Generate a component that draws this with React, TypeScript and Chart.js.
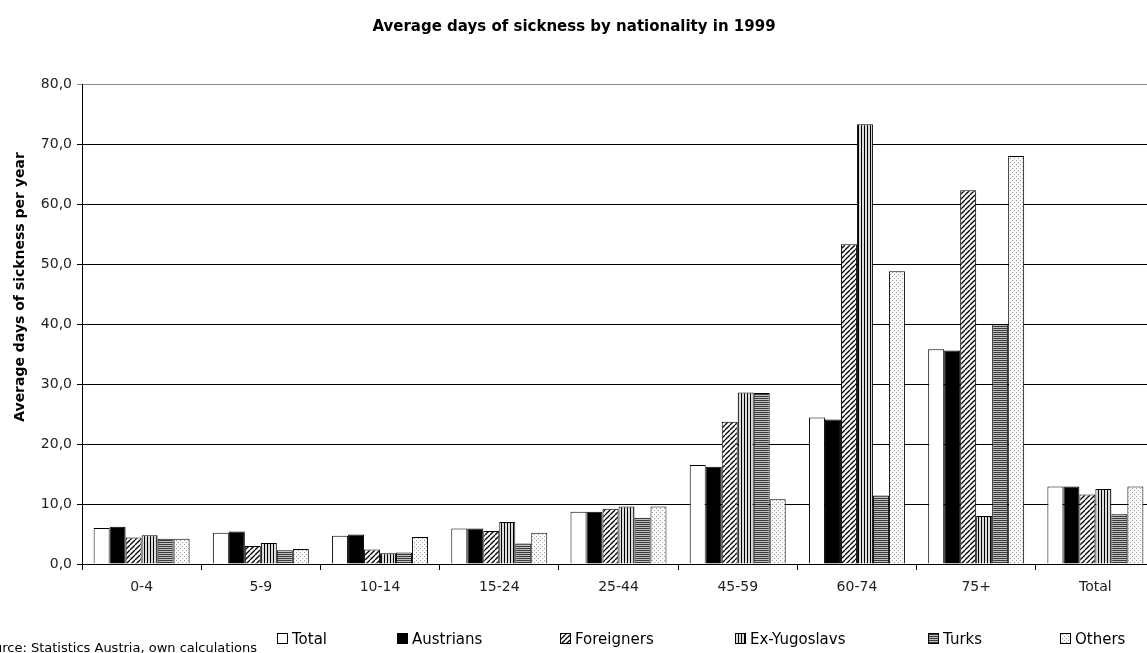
import React, { useEffect, useRef } from 'react';
import { Chart, registerables } from 'chart.js';

Chart.register(...registerables);

// ---------- data ----------
const categories = ['0-4', '5-9', '10-14', '15-24', '25-44', '45-59', '60-74', '75+', 'Total'];
const seriesLabels = ['Total', 'Austrians', 'Foreigners', 'Ex-Yugoslavs', 'Turks', 'Others'];
const totalValues = [6.0, 5.2, 4.7, 5.9, 8.7, 16.5, 24.4, 35.8, 12.9];
const austrianValues = [6.2, 5.4, 4.9, 5.9, 8.7, 16.2, 24.1, 35.6, 12.9];
const foreignerValues = [4.4, 3.0, 2.4, 5.5, 9.2, 23.7, 53.3, 62.3, 11.6];
const exYugoslavValues = [4.8, 3.5, 1.8, 7.0, 9.6, 28.6, 73.3, 8.0, 12.5];
const turkValues = [4.2, 2.3, 1.9, 3.4, 7.7, 28.5, 11.4, 40.0, 8.3];
const otherValues = [4.2, 2.5, 4.5, 5.2, 9.6, 10.8, 48.8, 68.0, 12.9];
const yMin = 0;
const yMax = 80;
const yStep = 10;

const TITLE = 'Average days of sickness by nationality in 1999';
const Y_TITLE = 'Average days of sickness per year';
const SOURCE = 'Source: Statistics Austria, own calculations';

// ---------- layout ----------
const CANVAS_W = 1170;
const CANVAS_H = 653;
const FONT = '"DejaVu Sans", sans-serif';
const LEGEND_X = [277, 397, 560, 735, 928, 1060];

type PatternKind = 'white' | 'black' | 'diag' | 'vert' | 'horiz' | 'dots';

function makePattern(kind: PatternKind): CanvasPattern | string {
  if (kind === 'white') return '#ffffff';
  if (kind === 'black') return '#000000';
  const c = document.createElement('canvas');
  const ctx = c.getContext('2d')!;
  if (kind === 'diag') {
    const s = 5;
    c.width = s; c.height = s;
    ctx.fillStyle = '#fff';
    ctx.fillRect(0, 0, s, s);
    ctx.strokeStyle = '#000';
    ctx.lineWidth = 1.3;
    for (const o of [-s, 0, s]) {
      ctx.beginPath();
      ctx.moveTo(o, s);
      ctx.lineTo(o + s, 0);
      ctx.stroke();
    }
  } else if (kind === 'vert') {
    c.width = 3; c.height = 1;
    ctx.fillStyle = '#dcdcdc';
    ctx.fillRect(0, 0, 3, 1);
    ctx.fillStyle = '#000';
    ctx.fillRect(0, 0, 1, 1);
  } else if (kind === 'horiz') {
    c.width = 1; c.height = 2;
    ctx.fillStyle = '#c0c0c0';
    ctx.fillRect(0, 0, 1, 2);
    ctx.fillStyle = '#3a3a3a';
    ctx.fillRect(0, 0, 1, 1);
  } else {
    c.width = 4; c.height = 4;
    ctx.fillStyle = '#fbfbfb';
    ctx.fillRect(0, 0, 4, 4);
    ctx.fillStyle = '#9a9a9a';
    ctx.fillRect(0, 0, 1, 1);
    ctx.fillRect(2, 2, 1, 1);
  }
  return ctx.createPattern(c, 'repeat')!;
}

const decorPlugin = {
  id: 'decor',
  afterDraw(chart: any) {
    const ctx: CanvasRenderingContext2D = chart.ctx;
    ctx.save();
    ctx.fillStyle = '#000';
    // title
    ctx.font = `bold 15px ${FONT}`;
    ctx.textAlign = 'center';
    ctx.textBaseline = 'alphabetic';
    ctx.fillText(TITLE, 574, 31);
    // y title
    ctx.save();
    ctx.translate(20, 287);
    ctx.rotate(-Math.PI / 2);
    ctx.textBaseline = 'middle';
    ctx.font = `bold 14px ${FONT}`;
    ctx.fillText(Y_TITLE, 0, 0);
    ctx.restore();
    // source
    ctx.font = `13px ${FONT}`;
    ctx.textAlign = 'right';
    ctx.textBaseline = 'alphabetic';
    ctx.fillText(SOURCE, 257, 652);
    // legend
    ctx.font = `15px ${FONT}`;
    ctx.textAlign = 'left';
    chart.data.datasets.forEach((ds: any, i: number) => {
      const x = LEGEND_X[i];
      ctx.fillStyle = ds.backgroundColor;
      ctx.fillRect(x, 633, 11, 11);
      ctx.strokeStyle = '#000';
      ctx.lineWidth = 1;
      ctx.strokeRect(x + 0.5, 633.5, 10, 10);
      ctx.fillStyle = '#000';
      ctx.fillText(ds.label, x + 15, 644);
    });
    ctx.restore();
  },
};

export default function App() {
  const ref = useRef<HTMLCanvasElement>(null);
  useEffect(() => {
    if (!ref.current) return;
    const fills: PatternKind[] = ['white', 'black', 'diag', 'vert', 'horiz', 'dots'];
    const values = [totalValues, austrianValues, foreignerValues, exYugoslavValues, turkValues, otherValues];
    const chart = new Chart(ref.current, {
      type: 'bar',
      data: {
        labels: categories,
        datasets: seriesLabels.map((label, i) => ({
          label,
          data: values[i],
          backgroundColor: makePattern(fills[i]) as any,
          borderColor: '#000',
          borderWidth: 1,
          categoryPercentage: 0.805,
          barPercentage: 1.0,
        })),
      },
      options: {
        responsive: false,
        animation: false,
        devicePixelRatio: 1,
        layout: { padding: { left: 0, right: CANVAS_W - 1155, top: 84, bottom: 49 } },
        plugins: {
          legend: { display: false },
          title: { display: false },
          tooltip: { enabled: false },
        },
        font: { family: FONT },
        scales: {
          x: {
            grid: {
              offset: true,
              drawOnChartArea: false,
              drawTicks: true,
              tickLength: 6,
              color: '#000',
            },
            border: { display: true, color: '#000', width: 1 },
            ticks: {
              color: '#222',
              font: { family: FONT, size: 14 },
              padding: 9,
              maxRotation: 0,
              autoSkip: false,
            },
            afterFit: (scale: any) => { scale.height = 40; },
          },
          y: {
            min: yMin,
            max: yMax,
            ticks: {
              stepSize: yStep,
              color: '#222',
              font: { family: FONT, size: 14 },
              padding: 5,
              callback: (v: any) => Number(v).toFixed(1).replace('.', ','),
            },
            grid: {
              color: (c: any) => (c.tick && c.tick.value === yMax ? '#8a8a8a' : '#000'),
              tickLength: 5,
              lineWidth: 1,
            },
            border: { display: true, color: '#000', width: 1 },
            afterFit: (scale: any) => { scale.width = 82; },
          },
        },
      },
      plugins: [decorPlugin],
    });
    return () => chart.destroy();
  }, []);

  return (
    <div
      style={{
        position: 'fixed',
        left: 0,
        top: 0,
        width: 1147,
        height: 653,
        overflow: 'hidden',
        background: '#fff',
      }}
    >
      <canvas ref={ref} width={CANVAS_W} height={CANVAS_H} style={{ display: 'block' }} />
    </div>
  );
}
